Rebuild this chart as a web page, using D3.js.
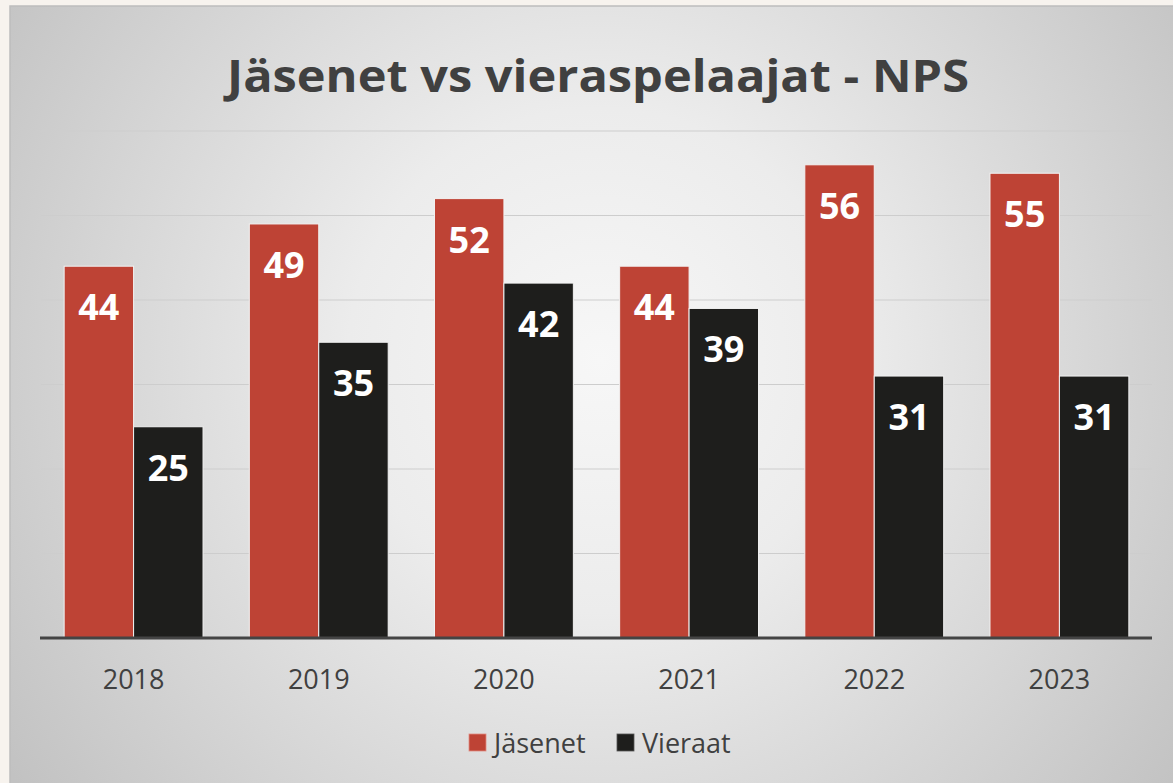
<!DOCTYPE html>
<html>
<head>
<meta charset="utf-8">
<script src="https://cdn.jsdelivr.net/npm/d3@7"></script>
<style>
  html, body { margin: 0; padding: 0; background: #f7f3ee; }
  svg { display: block; }
</style>
</head>
<body>
<div id="chart"></div>
<script>
// Chart data
const years = ['2018', '2019', '2020', '2021', '2022', '2023'];
const jasenet = [44, 49, 52, 44, 56, 55];
const vieraat = [25, 35, 42, 39, 31, 31];
const seriesNames = ['Jäsenet', 'Vieraat'];
const seriesColors = ['#be4335', '#1e1e1c'];
const yTicks = [0, 10, 20, 30, 40, 50, 60];

const W = 1173, H = 783;
const margin = { top: 131, right: 21, bottom: 145, left: 41 };
const panel = { x: 10, y: 6 };
const FONT = '"Open Sans", sans-serif';

const svg = d3.select('#chart').append('svg')
    .attr('width', W)
    .attr('height', H);

const defs = svg.append('defs');
const grad = defs.append('radialGradient')
    .attr('id', 'bg')
    .attr('gradientUnits', 'userSpaceOnUse')
    .attr('cx', 600).attr('cy', 360).attr('r', 720);
grad.append('stop').attr('offset', '0%').attr('stop-color', '#f7f7f7');
grad.append('stop').attr('offset', '35%').attr('stop-color', '#ececec');
grad.append('stop').attr('offset', '100%').attr('stop-color', '#c2c2c2');

// Panel
svg.append('rect')
    .attr('x', panel.x).attr('y', panel.y)
    .attr('width', W - panel.x + 2).attr('height', H - panel.y + 2)
    .attr('fill', 'url(#bg)')
    .attr('stroke', '#bdbdbd')
    .attr('stroke-width', 1.5);

// Title
svg.append('text')
    .attr('x', 598).attr('y', 92)
    .attr('text-anchor', 'middle')
    .style('font-family', FONT)
    .style('font-weight', 700)
    .style('font-size', '44px')
    .attr('fill', '#404040')
    .attr('textLength', 742)
    .attr('lengthAdjust', 'spacingAndGlyphs')
    .text('Jäsenet vs vieraspelaajat - NPS');

const innerW = W - margin.left - margin.right;
const innerH = H - margin.top - margin.bottom;

const g = svg.append('g')
    .attr('transform', `translate(${margin.left},${margin.top})`);

const x = d3.scaleBand().domain(years).range([0, innerW]).paddingInner(0.25).paddingOuter(0.125);
const x1 = d3.scaleBand().domain(seriesNames).range([0, x.bandwidth()]);
const y = d3.scaleLinear().domain([0, 60]).range([innerH, 0]);

// Gridlines
g.selectAll('.grid')
    .data(yTicks.filter(t => t > 0))
    .enter()
    .append('line')
    .attr('class', 'grid')
    .attr('x1', 0).attr('x2', innerW)
    .attr('y1', d => y(d)).attr('y2', d => y(d))
    .attr('stroke', '#cdcdcd')
    .attr('stroke-width', 1.2);

const rows = years.map((yr, i) => ({ year: yr, values: [jasenet[i], vieraat[i]] }));

const groups = g.selectAll('.year')
    .data(rows)
    .enter()
    .append('g')
    .attr('class', 'year')
    .attr('transform', d => `translate(${x(d.year)},0)`);

const bars = groups.selectAll('.bar')
    .data(d => d.values.map((v, i) => ({ name: seriesNames[i], value: v, idx: i })))
    .enter();

bars.append('rect')
    .attr('x', d => x1(d.name))
    .attr('y', d => y(d.value))
    .attr('width', x1.bandwidth())
    .attr('height', d => innerH - y(d.value))
    .attr('fill', d => seriesColors[d.idx])
    .attr('stroke', '#f2f2f2')
    .attr('stroke-width', 1);

bars.append('text')
    .attr('x', d => x1(d.name) + x1.bandwidth() / 2)
    .attr('y', d => y(d.value) + 54)
    .attr('text-anchor', 'middle')
    .style('font-family', FONT)
    .style('font-weight', 700)
    .style('font-size', '36px')
    .attr('fill', '#ffffff')
    .text(d => d.value);

// Baseline
g.append('line')
    .attr('x1', -1).attr('x2', innerW)
    .attr('y1', innerH).attr('y2', innerH)
    .attr('stroke', '#444444')
    .attr('stroke-width', 3);

// X axis labels
const xAxis = d3.axisBottom(x).tickSize(0).tickPadding(32);
const ax = g.append('g')
    .attr('transform', `translate(0,${innerH})`)
    .call(xAxis);
ax.select('.domain').remove();
ax.selectAll('text')
    .style('font-family', FONT)
    .style('font-size', '27px')
    .attr('fill', '#404040');

// Legend
const legend = svg.append('g').attr('transform', 'translate(0,743)');
const legendX = [469, 617];
seriesNames.forEach((name, i) => {
    const item = legend.append('g').attr('transform', `translate(${legendX[i]},0)`);
    item.append('rect')
        .attr('x', 0).attr('y', -9)
        .attr('width', 17).attr('height', 17)
        .attr('fill', seriesColors[i])
        .attr('stroke', i === 0 ? '#e08a80' : '#555')
        .attr('stroke-width', 0.8);
    item.append('text')
        .attr('x', 25).attr('y', 10)
        .style('font-family', FONT)
        .style('font-size', '27px')
        .attr('fill', '#404040')
        .text(name);
});
</script>
</body>
</html>
